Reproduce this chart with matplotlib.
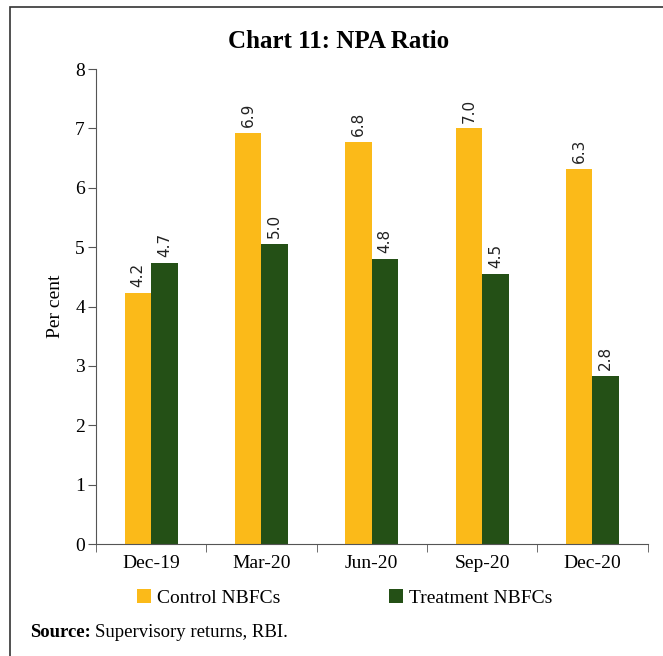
import matplotlib.pyplot as plt
import matplotlib.patches as mpatches
import numpy as np

# Data
quarters = ["Dec-19", "Mar-20", "Jun-20", "Sep-20", "Dec-20"]
control = [4.23, 6.92, 6.77, 7.0, 6.31]
treatment = [4.73, 5.05, 4.8, 4.55, 2.83]
control_labels = ["4.2", "6.9", "6.8", "7.0", "6.3"]
treatment_labels = ["4.7", "5.0", "4.8", "4.5", "2.8"]

yellow = "#FBBA19"
green = "#245016"
serif = "Liberation Serif"

fig = plt.figure(figsize=(6.63, 6.56), dpi=100)
ax = fig.add_axes([0.1448, 0.1707, 0.832, 0.724])

x = np.arange(len(quarters))
w = 0.24
ax.bar(x - w / 2, control, width=w, color=yellow, label="Control NBFCs")
ax.bar(x + w / 2, treatment, width=w, color=green, label="Treatment NBFCs")

for xi, v, lab in zip(x, control, control_labels):
    ax.text(xi - w / 2, v + 0.1, lab, rotation=90, ha="center", va="bottom",
            fontsize=11, family="DejaVu Sans", color="#222222")
for xi, v, lab in zip(x, treatment, treatment_labels):
    ax.text(xi + w / 2, v + 0.1, lab, rotation=90, ha="center", va="bottom",
            fontsize=11, family="DejaVu Sans", color="#222222")

ax.set_xlim(-0.5, len(quarters) - 0.5)
ax.set_ylim(0, 8)
ax.set_yticks(range(0, 9))
ax.set_xticks(x)
ax.set_xticklabels(quarters, fontsize=14, family=serif)
ax.tick_params(axis="x", length=0, pad=8)
ax.set_xticks(np.arange(-0.5, len(quarters)), minor=True)
ax.tick_params(axis="x", which="minor", length=6, color="#555555")
ax.tick_params(axis="y", labelsize=14, length=6, color="#555555", pad=2)
for t in ax.get_yticklabels():
    t.set_family(serif)
ax.set_ylabel("Per cent", fontsize=14, family=serif, labelpad=8)

for s in ["top", "right"]:
    ax.spines[s].set_visible(False)
for s in ["left", "bottom"]:
    ax.spines[s].set_color("#555555")

fig.text(0.511, 0.937, "Chart 11: NPA Ratio", ha="center", va="center",
         fontsize=18, fontweight="bold", family=serif)

fig.legend(loc="center", bbox_to_anchor=(0.52, 0.088), ncol=2, frameon=False,
           prop={"family": serif, "size": 14}, handlelength=0.7, handleheight=0.7,
           handletextpad=0.3, columnspacing=5.6)

# source note: bold label followed by plain text
src = fig.text(0.045, 0.036, "Source:", fontsize=13.5, family=serif,
               fontweight="bold", va="center")
fig.canvas.draw()
bb = src.get_window_extent().transformed(fig.transFigure.inverted())
fig.text(bb.x1 + 0.006, 0.036, "Supervisory returns, RBI.", fontsize=13.5,
         family=serif, va="center")

border = mpatches.Rectangle((0.015, -0.05), 1.2, 1.04, transform=fig.transFigure,
                            fill=False, edgecolor="#333333", linewidth=1.2)
fig.add_artist(border)

fig.savefig("out.png", dpi=100)
